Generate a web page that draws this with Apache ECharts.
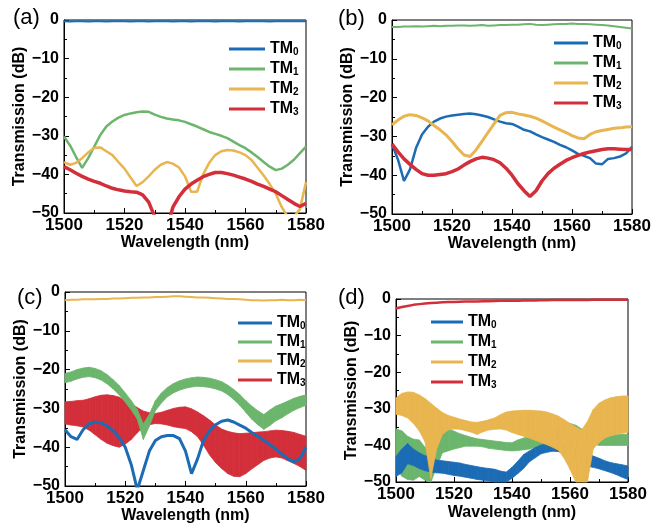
<!DOCTYPE html>
<html>
<head>
<meta charset="utf-8">
<title>TM mode transmission</title>
<script src="https://cdn.jsdelivr.net/npm/echarts@6/dist/echarts.min.js"></script>
<style>
  html, body { margin: 0; padding: 0; background: #fff; }
  #main { width: 661px; height: 531px; }
</style>
</head>
<body>
<div id="main"></div>
<script type="text/javascript">
// wavelength grid (nm), shared by all curves
var wavelength = [
  1500,1502,1504,1506,1508,1510,1512,1514,1516,1518,
  1520,1522,1524,1526,1528,1530,1532,1534,1536,1538,
  1540,1542,1544,1546,1548,1550,1552,1554,1556,1558,
  1560,1562,1564,1566,1568,1570,1572,1574,1576,1578,
  1580
];
var modeNames = ['TM0', 'TM1', 'TM2', 'TM3'];

// (a) TM0 input
var a_tm0 = [
  -0.3,-0.4,-0.3,-0.3,-0.4,-0.3,-0.3,-0.4,-0.3,-0.3,
  -0.3,-0.4,-0.3,-0.3,-0.4,-0.3,-0.3,-0.3,-0.4,-0.3,
  -0.3,-0.4,-0.3,-0.3,-0.3,-0.4,-0.3,-0.3,-0.3,-0.4,
  -0.3,-0.3,-0.3,-0.3,-0.4,-0.3,-0.3,-0.3,-0.3,-0.3,
  -0.3
];
var a_tm1 = [
  -30.2,-32.5,-35.5,-38.3,-35.8,-32.8,-29.8,-27.6,-26.3,-25.3,
  -24.6,-24.2,-23.9,-23.7,-23.8,-24.5,-25.1,-25.5,-25.8,-26.0,
  -26.4,-27.0,-27.6,-28.3,-29.0,-29.5,-30.0,-30.6,-31.5,-32.4,
  -33.2,-34.3,-35.5,-36.8,-38.0,-38.9,-38.5,-37.5,-36.2,-34.5,
  -32.8
];
var a_tm2 = [
  -36.8,-37.5,-37.0,-35.8,-34.3,-33.1,-33.0,-34.0,-35.0,-36.8,
  -38.5,-40.8,-43.0,-42.0,-40.5,-38.8,-37.5,-36.8,-37.2,-38.2,
  -40.5,-44.5,-44.5,-40.0,-37.0,-35.0,-34.0,-33.7,-33.8,-34.3,
  -35.0,-36.3,-38.3,-40.3,-42.5,-45.0,-48.5,-51.0,-51.0,-49.0,
  -42.0
];
var a_tm3 = [
  -38.0,-38.8,-39.7,-40.5,-41.2,-41.8,-42.3,-43.0,-43.6,-44.0,
  -44.3,-44.5,-44.6,-45.3,-47.2,-51.0,-58.0,-54.0,-48.5,-45.8,
  -43.8,-42.5,-41.5,-40.6,-40.0,-39.5,-39.5,-39.8,-40.2,-40.7,
  -41.2,-41.8,-42.5,-43.1,-43.8,-44.5,-45.5,-46.5,-47.5,-48.3,
  -47.5
];

// (b) TM1 input
var b_tm0 = [
  -32.0,-36.0,-41.5,-38.5,-33.0,-29.5,-27.5,-26.2,-25.4,-24.9,
  -24.6,-24.4,-24.2,-24.1,-24.3,-24.6,-25.0,-25.6,-26.2,-26.6,
  -26.8,-27.5,-28.3,-28.7,-29.5,-30.2,-30.8,-31.4,-32.2,-32.8,
  -33.6,-34.5,-35.0,-35.6,-37.0,-37.2,-35.8,-35.6,-35.2,-34.4,
  -32.7
];
var b_tm1 = [
  -1.8,-1.8,-1.7,-1.7,-1.6,-1.7,-1.6,-1.5,-1.6,-1.5,
  -1.5,-1.4,-1.4,-1.5,-1.4,-1.3,-1.5,-1.4,-1.3,-1.3,
  -1.2,-1.2,-1.1,-1.0,-1.2,-1.3,-1.2,-1.1,-1.0,-1.0,
  -0.9,-1.0,-1.0,-1.1,-1.2,-1.3,-1.4,-1.6,-1.8,-2.0,
  -2.2
];
var b_tm2 = [
  -27.0,-25.8,-24.8,-24.4,-24.6,-25.2,-26.0,-27.2,-28.3,-29.6,
  -31.3,-33.2,-34.8,-35.2,-33.5,-31.3,-29.0,-26.8,-24.6,-23.9,
  -23.8,-24.2,-24.5,-24.8,-25.3,-26.0,-26.8,-27.6,-28.3,-29.0,
  -29.8,-30.4,-30.6,-29.5,-28.8,-28.5,-28.2,-27.9,-27.8,-27.6,
  -27.5
];
var b_tm3 = [
  -32.0,-34.0,-35.8,-37.2,-38.5,-39.6,-40.0,-40.0,-39.8,-39.6,
  -39.1,-38.4,-37.4,-36.5,-35.8,-35.4,-35.6,-36.0,-36.8,-38.2,
  -40.0,-42.2,-44.0,-45.5,-44.0,-41.5,-39.6,-38.2,-37.2,-36.2,
  -35.5,-34.9,-34.4,-34.0,-33.7,-33.4,-33.2,-33.2,-33.3,-33.4,
  -33.4
];

// (c) TM2 input (noisy curves kept as lower / upper envelope)
var c_tm0 = [
  -35.5,-37.3,-38.0,-35.5,-34.0,-33.5,-33.8,-34.5,-35.8,-37.5,
  -40.0,-44.5,-51.0,-46.0,-41.0,-38.3,-37.3,-37.0,-37.0,-37.8,
  -41.0,-46.8,-43.0,-38.2,-35.8,-34.2,-33.3,-33.0,-33.5,-34.3,
  -35.1,-36.2,-37.2,-38.2,-39.3,-40.5,-41.8,-43.0,-43.8,-43.0,
  -40.0
];
var c_tm1_hi = [
  -21.0,-20.6,-20.0,-19.6,-19.4,-19.7,-20.3,-21.3,-22.6,-24.1,
  -26.0,-28.0,-30.3,-34.0,-31.5,-28.0,-26.0,-24.6,-23.6,-22.9,
  -22.4,-22.1,-21.9,-22.0,-22.2,-22.6,-23.1,-24.0,-25.1,-26.4,
  -28.0,-29.4,-30.6,-31.6,-30.4,-29.4,-28.8,-28.1,-27.4,-26.9,
  -26.5
];
var c_tm1_lo = [
  -23.4,-23.0,-22.4,-22.0,-21.8,-22.1,-22.7,-23.7,-25.0,-26.5,
  -28.4,-30.4,-32.8,-38.0,-34.6,-30.6,-28.6,-27.0,-26.0,-25.3,
  -24.8,-24.5,-24.3,-24.4,-24.6,-25.0,-25.5,-26.4,-27.7,-29.2,
  -31.0,-32.8,-34.2,-35.4,-34.4,-33.2,-32.4,-31.4,-30.5,-29.8,
  -29.2
];
var c_tm2 = [
  -2.1,-2.0,-2.0,-1.9,-1.9,-1.9,-1.8,-1.8,-1.7,-1.7,
  -1.6,-1.5,-1.5,-1.4,-1.4,-1.3,-1.3,-1.2,-1.1,-1.1,
  -1.2,-1.3,-1.4,-1.4,-1.5,-1.6,-1.7,-1.8,-1.8,-1.9,
  -2.0,-2.1,-2.1,-2.2,-2.1,-2.1,-2.0,-2.1,-2.1,-2.0,
  -2.1
];
var c_tm3_hi = [
  -28.3,-28.2,-28.0,-27.9,-27.5,-27.0,-26.6,-26.5,-26.7,-27.1,
  -28.0,-28.8,-29.8,-30.7,-31.1,-31.3,-31.0,-30.5,-30.0,-29.7,
  -29.6,-30.1,-30.9,-31.9,-33.0,-34.3,-35.3,-35.9,-36.3,-36.5,
  -36.4,-36.3,-36.1,-36.0,-35.8,-35.6,-35.7,-35.9,-36.2,-36.7,
  -37.2
];
var c_tm3_lo = [
  -34.0,-34.3,-34.5,-34.8,-35.6,-36.8,-38.0,-39.0,-39.6,-40.0,
  -39.2,-38.0,-36.3,-34.8,-34.2,-33.9,-34.0,-34.3,-34.7,-35.0,
  -35.2,-36.0,-37.3,-39.5,-42.0,-44.0,-45.5,-46.8,-47.5,-47.6,
  -46.8,-45.6,-44.5,-43.4,-42.8,-42.5,-42.8,-43.5,-44.2,-45.0,
  -46.0
];

// (d) TM3 input
var d_tm0_hi = [
  -43.0,-41.0,-39.5,-41.0,-42.0,-42.8,-43.5,-44.0,-44.2,-44.4,
  -44.6,-44.8,-45.2,-45.5,-45.8,-46.1,-46.3,-46.5,-47.0,-47.3,
  -46.0,-44.3,-42.5,-41.5,-40.6,-39.9,-39.6,-39.5,-39.6,-40.0,
  -40.5,-41.2,-41.8,-42.4,-42.9,-43.5,-44.2,-44.7,-45.0,-45.3,
  -45.6
];
var d_tm0_lo = [
  -48.5,-47.5,-45.0,-45.5,-46.3,-46.9,-47.3,-47.5,-47.6,-47.9,
  -48.2,-48.4,-48.7,-49.0,-49.3,-49.5,-49.7,-50.0,-50.5,-50.5,
  -49.0,-47.7,-46.3,-44.5,-43.4,-42.3,-41.9,-41.6,-41.7,-42.3,
  -43.2,-44.2,-45.0,-45.7,-46.0,-46.4,-46.9,-47.4,-48.0,-48.7,
  -49.3
];
var d_tm1_hi = [
  -35.5,-36.0,-37.5,-38.3,-38.5,-40.5,-42.0,-38.0,-35.0,-35.5,
  -36.1,-36.8,-37.3,-37.8,-38.2,-38.4,-38.6,-38.8,-39.0,-39.2,
  -39.3,-38.5,-38.0,-37.5,-37.0,-36.5,-36.0,-35.5,-35.0,-34.5,
  -34.0,-34.5,-35.5,-36.0,-36.5,-37.0,-37.0,-37.0,-37.0,-37.0,
  -37.0
];
var d_tm1_lo = [
  -46.0,-48.4,-49.3,-49.5,-48.5,-49.5,-50.0,-46.0,-42.0,-41.5,
  -41.0,-40.6,-40.2,-40.2,-40.2,-40.4,-40.8,-41.0,-41.2,-41.4,
  -41.5,-41.4,-41.2,-41.0,-40.5,-40.0,-39.5,-39.0,-38.5,-37.5,
  -36.5,-37.0,-38.0,-39.0,-39.5,-40.0,-40.0,-40.0,-40.0,-40.0,
  -40.0
];
var d_tm2_hi = [
  -27.0,-25.8,-25.4,-25.5,-26.2,-27.2,-28.5,-29.8,-31.0,-31.8,
  -32.3,-32.8,-33.2,-33.6,-33.7,-33.4,-33.0,-32.5,-31.6,-30.9,
  -30.6,-30.5,-30.4,-30.4,-30.5,-30.6,-30.9,-31.4,-32.0,-33.0,
  -34.0,-35.0,-35.8,-33.5,-30.2,-28.5,-27.6,-27.0,-26.7,-26.5,
  -26.5
];
var d_tm2_lo = [
  -31.5,-31.8,-32.5,-34.0,-36.0,-39.0,-49.0,-41.0,-37.0,-35.8,
  -35.5,-35.6,-36.0,-36.4,-37.0,-36.3,-35.8,-35.6,-35.5,-35.8,
  -36.5,-37.0,-37.5,-38.0,-38.6,-39.2,-39.8,-40.5,-41.3,-43.5,
  -46.5,-51.0,-52.0,-51.0,-41.0,-39.2,-38.0,-37.4,-37.0,-36.7,
  -36.5
];
var d_tm3 = [
  -2.6,-2.2,-1.9,-1.6,-1.4,-1.2,-1.1,-1.0,-0.9,-0.85,
  -0.8,-0.75,-0.7,-0.7,-0.65,-0.6,-0.6,-0.55,-0.5,-0.5,
  -0.45,-0.45,-0.4,-0.4,-0.4,-0.35,-0.35,-0.3,-0.3,-0.3,
  -0.3,-0.25,-0.25,-0.25,-0.2,-0.2,-0.2,-0.2,-0.2,-0.2,
  -0.2
];

var blue = '#1c6cb5', green = '#6cb56c', yellow = '#e9b54f', red = '#d22f3a';
var font = 'Liberation Sans';

// panel boxes (pixels) and label offsets
var grids = [
  { left: 64, top: 20, width: 242, height: 193 },
  { left: 392, top: 20, width: 240, height: 194 },
  { left: 65, top: 292, width: 241, height: 194 },
  { left: 396, top: 299, width: 232, height: 183 }
];
var xNameGap = [20, 19, 22, 23];
var yNameGap = [36, 36, 35, 33];
// legend: left, top, icon width, gap
var legendPos = [[224, 36, 36, 4], [549, 30, 34, 4], [233, 310, 34, 3], [426, 309, 32, 4]];

function lineSeries(name, g, ys, color, width) {
    return {
        type: 'line',
        name: name,
        xAxisIndex: g,
        yAxisIndex: g,
        data: wavelength.map(function (x, i) { return [x, ys[i]]; }),
        symbol: 'none',
        showSymbol: false,
        lineStyle: { color: color, width: width },
        itemStyle: { color: color },
        silent: true
    };
}

// dense-noise curves drawn as a filled band between lower and upper envelope
function bandItem(params, api) {
    var x0 = api.value(0), x1 = api.value(3);
    var pts = [
        api.coord([x0, api.value(2)]),
        api.coord([x1, api.value(5)]),
        api.coord([x1, api.value(4)]),
        api.coord([x0, api.value(1)])
    ];
    var cs = params.coordSys;
    pts = echarts.graphic.clipPointsByRect(pts, { x: cs.x, y: cs.y, width: cs.width, height: cs.height });
    var c = api.visual('color');
    return {
        type: 'polygon',
        shape: { points: pts },
        style: { fill: c, stroke: c, lineWidth: 0.8 }
    };
}

function bandSeries(name, g, lo, hi, color) {
    var data = [];
    for (var i = 0; i < wavelength.length - 1; i++) {
        data.push([wavelength[i], lo[i], hi[i], wavelength[i + 1], lo[i + 1], hi[i + 1]]);
    }
    return {
        type: 'custom',
        name: name,
        xAxisIndex: g,
        yAxisIndex: g,
        data: data,
        encode: { x: [0, 3], y: [1, 2, 4, 5] },
        renderItem: bandItem,
        itemStyle: { color: color },
        silent: true
    };
}

var series = [
    // (a)
    lineSeries('TM0', 0, a_tm0, blue, 2),
    lineSeries('TM1', 0, a_tm1, green, 2.5),
    lineSeries('TM2', 0, a_tm2, yellow, 2.5),
    lineSeries('TM3', 0, a_tm3, red, 3.5),
    // (b)
    lineSeries('TM0', 1, b_tm0, blue, 2.5),
    lineSeries('TM1', 1, b_tm1, green, 2),
    lineSeries('TM2', 1, b_tm2, yellow, 3),
    lineSeries('TM3', 1, b_tm3, red, 3.5),
    // (c)
    lineSeries('TM2', 2, c_tm2, yellow, 2),
    lineSeries('TM0', 2, c_tm0, blue, 3),
    bandSeries('TM3', 2, c_tm3_lo, c_tm3_hi, red),
    bandSeries('TM1', 2, c_tm1_lo, c_tm1_hi, green),
    // (d)
    bandSeries('TM1', 3, d_tm1_lo, d_tm1_hi, green),
    bandSeries('TM0', 3, d_tm0_lo, d_tm0_hi, blue),
    bandSeries('TM2', 3, d_tm2_lo, d_tm2_hi, yellow),
    lineSeries('TM3', 3, d_tm3, red, 2.5)
];

var boldText = { color: '#000', fontFamily: font, fontWeight: 'bold', fontSize: 16 };

var option = {
    animation: false,
    backgroundColor: '#fff',
    grid: grids.map(function (g) {
        return {
            left: g.left, top: g.top, width: g.width, height: g.height,
            show: true, borderColor: '#000', borderWidth: 1,
            containLabel: false, outerBoundsMode: 'none'
        };
    }),
    xAxis: grids.map(function (g, i) {
        return {
            type: 'value', gridIndex: i,
            min: 1500, max: 1580, interval: 20,
            name: 'Wavelength (nm)', nameLocation: 'middle', nameGap: xNameGap[i],
            nameTextStyle: boldText,
            axisLine: { show: true, onZero: false, lineStyle: { color: '#000', width: 1 } },
            axisTick: { show: true, inside: true, length: 5, lineStyle: { color: '#000', width: 1 } },
            minorTick: { show: true, splitNumber: 2, length: 3, lineStyle: { color: '#000', width: 1 } },
            splitLine: { show: false },
            axisLabel: {
                color: '#000', fontFamily: font, fontWeight: 'bold', fontSize: 17, margin: 4,
                formatter: function (v) { return String(v); }
            }
        };
    }),
    yAxis: grids.map(function (g, i) {
        return {
            type: 'value', gridIndex: i,
            min: -50, max: 0, interval: 10,
            name: 'Transmission (dB)', nameLocation: 'middle', nameGap: yNameGap[i],
            nameTextStyle: boldText,
            axisLine: { show: true, onZero: false, lineStyle: { color: '#000', width: 1 } },
            axisTick: { show: true, inside: true, length: 5, lineStyle: { color: '#000', width: 1 } },
            minorTick: { show: true, splitNumber: 2, length: 3, lineStyle: { color: '#000', width: 1 } },
            splitLine: { show: false },
            axisLabel: {
                color: '#000', fontFamily: font, fontWeight: 'bold', fontSize: 16, margin: 5,
                formatter: function (v) { return String(v).replace('-', '\u2212'); }
            }
        };
    }),
    legend: legendPos.map(function (p) {
        return {
            orient: 'vertical', left: p[0], top: p[1],
            itemWidth: p[2], itemHeight: 3, itemGap: p[3],
            icon: 'rect', selectedMode: false,
            itemStyle: { borderWidth: 0 },
            data: modeNames,
            formatter: function (n) { return 'TM{s|' + n.charAt(2) + '}'; },
            textStyle: {
                color: '#000', fontFamily: font, fontWeight: 'bold', fontSize: 16, lineHeight: 16,
                rich: { s: { fontFamily: font, fontWeight: 'bold', fontSize: 10, lineHeight: 10, verticalAlign: 'bottom' } }
            }
        };
    }),
    graphic: [
        { type: 'text', left: 13, top: 7, style: { text: '(a)', font: '22px Liberation Sans', fill: '#000' } },
        { type: 'text', left: 338, top: 8, style: { text: '(b)', font: '22px Liberation Sans', fill: '#000' } },
        { type: 'text', left: 17, top: 287, style: { text: '(c)', font: '22px Liberation Sans', fill: '#000' } },
        { type: 'text', left: 338, top: 287, style: { text: '(d)', font: '22px Liberation Sans', fill: '#000' } }
    ],
    series: series
};

var myChart = echarts.init(document.getElementById('main'));
myChart.setOption(option);
</script>
</body>
</html>
